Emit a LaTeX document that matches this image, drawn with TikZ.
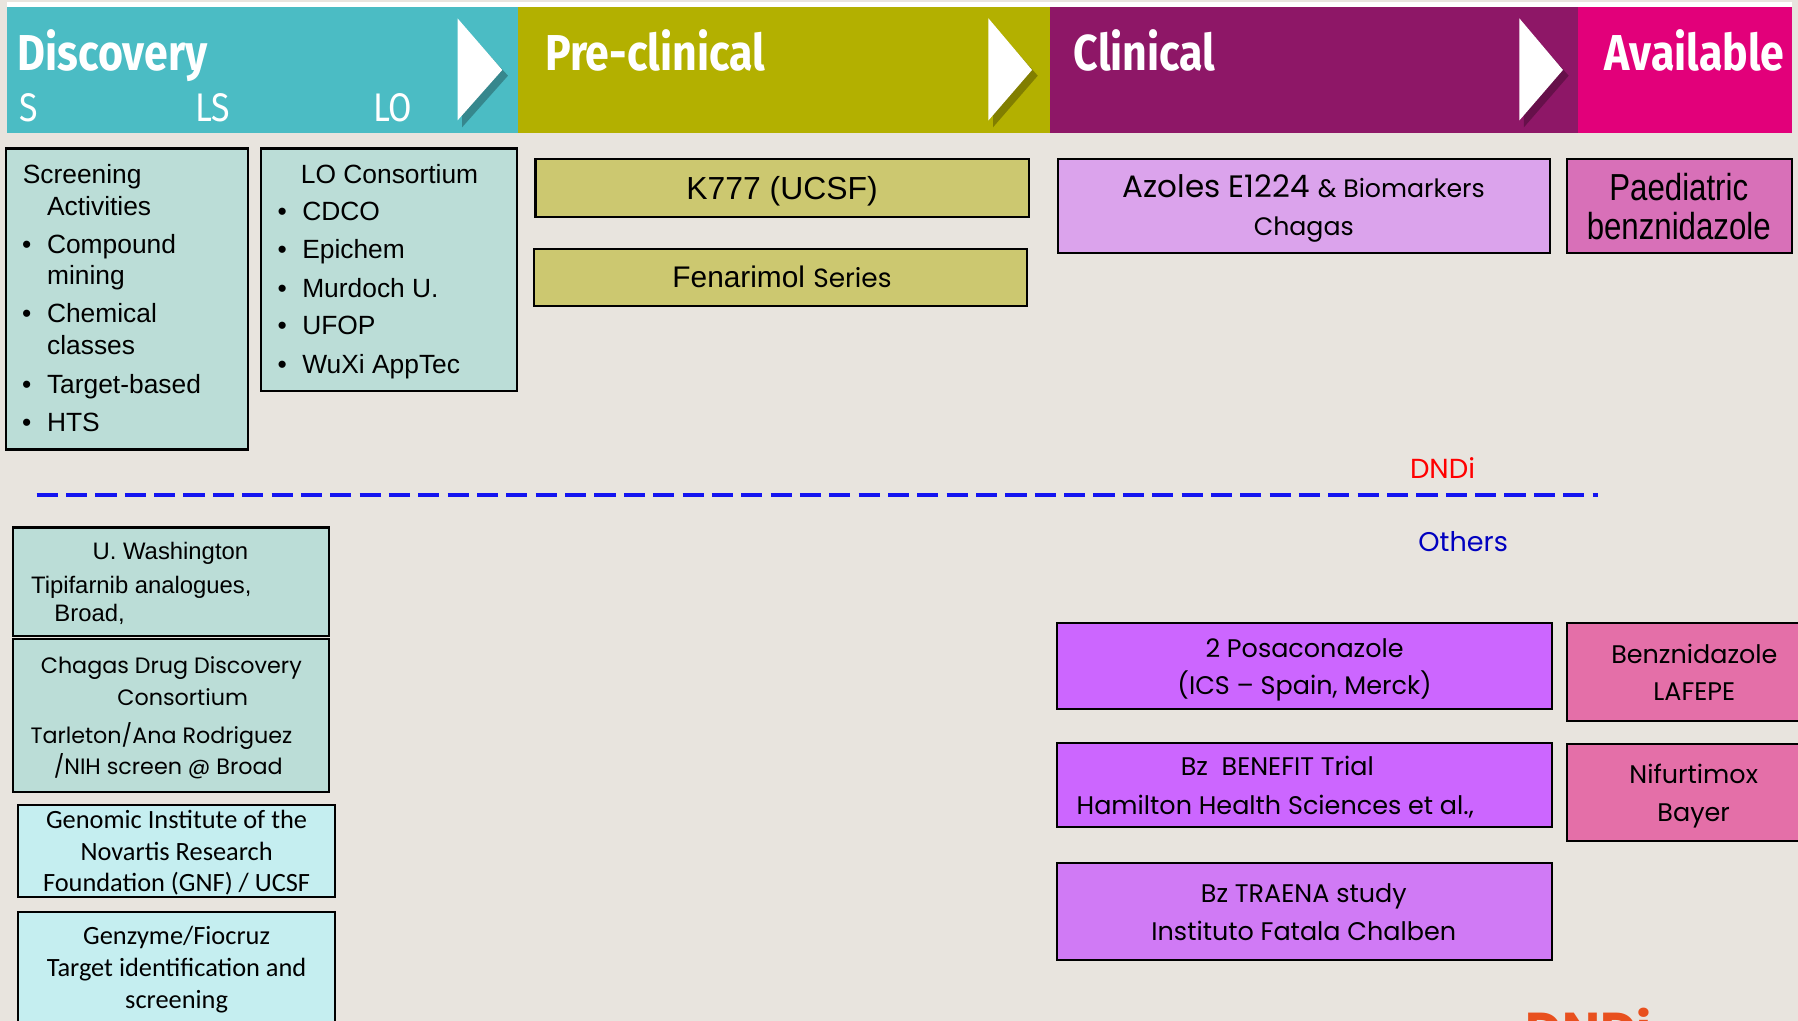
\documentclass[tikz,border=0pt]{standalone}
\usepackage{fontspec}
\setmainfont{Liberation Sans}
\newfontfamily\bandfont[FakeStretch=0.85]{Fira Sans}
\newfontfamily\geofont{Poppins}
\newfontfamily\calfont{Carlito}
\newfontfamily\narrowfont[FakeStretch=0.83]{Liberation Sans}
\usepackage{tikz}

\definecolor{pageBg}{HTML}{E8E4DE}
\definecolor{discTeal}{HTML}{4BBCC4}
\definecolor{preOlive}{HTML}{B3B000}
\definecolor{clinPurple}{HTML}{8E1767}
\definecolor{availPink}{HTML}{E2007A}
\definecolor{tealBox}{HTML}{BBDDD7}
\definecolor{cyanBox}{HTML}{C5EEF0}
\definecolor{oliveBox}{HTML}{CCC870}
\definecolor{lilacBox}{HTML}{DBA3EC}
\definecolor{paedBox}{HTML}{D870B8}
\definecolor{violetBox}{HTML}{CC66FF}
\definecolor{traenaBox}{HTML}{D07AF5}
\definecolor{rosyBox}{HTML}{E46FA8}
\definecolor{dndiRed}{HTML}{FF0000}
\definecolor{lineBlue}{HTML}{1414F0}
\definecolor{othersBlue}{HTML}{0000C0}
\definecolor{logoOrange}{HTML}{E8501E}

\newcommand{\itembul}{\makebox[10.8pt][l]{\textbullet}}

\begin{document}
\begin{tikzpicture}[x=0.5pt,y=0.5pt,yscale=-1,
    box/.style={draw=black,line width=0.9pt},
    lft/.style={inner sep=0pt,anchor=base west},
    ctr/.style={inner sep=0pt,anchor=base},
    lst/.style={lft,font=\fontsize{11.5}{13.8}\selectfont},
    band/.style={lft,text=white,font=\bandfont\bfseries\fontsize{22}{26}\selectfont},
    stage/.style={lft,text=white,font=\bandfont\fontsize{17.4}{20}\selectfont},
    geo/.style={font=\geofont\fontsize{11.1}{14}\selectfont},
    gal/.style={font=\calfont\fontsize{11.5}{13.8}\selectfont},
    tip/.style={fill=white},
    tipshadow/.style={fill=black,fill opacity=0.28}]
          \useasboundingbox (0,0) rectangle (1568,890);
          \clip (0,0) rectangle (1568,890);

          %Shape: Background
          \fill [pageBg] (0,0) rectangle (1568,890);
          %Shape: White strip
          \fill [white] (6,1.5) rectangle (1562.5,7);
          %Shape: Stage band
          \fill [discTeal] (6,6.4) rectangle (452,116.3);
          \fill [preOlive] (452,6.4) rectangle (916,116.3);
          \fill [clinPurple] (916,6.4) rectangle (1376,116.3);
          \fill [availPink] (1376,6.4) rectangle (1562.5,116.3);
          %Shape: Triangles
          \fill [tipshadow] (403,22) -- (443,66) -- (403,111) -- cycle;
          \fill [tip] (399,16) -- (438,61) -- (399,105) -- cycle;
          \fill [tipshadow] (866,22) -- (905,66) -- (866,111) -- cycle;
          \fill [tip] (862,16) -- (900,61) -- (862,105) -- cycle;
          \fill [tipshadow] (1329,22) -- (1368,66) -- (1329,111) -- cycle;
          \fill [tip] (1325,16) -- (1363,61) -- (1325,105) -- cycle;

          % Text Node
          \draw (15,61.6) node [band] (discT) {Discovery};
          \draw (475,61.6) node [band] (preT) {Pre-clinical};
          \draw (936,61.6) node [band] (clinT) {Clinical};
          \draw (1399,61.6) node [band] (availT) {Available};
          \draw (17,106) node [stage] (stS) {S};
          \draw (170,106) node [stage] (stLS) {LS};
          \draw (325,106) node [stage] (stLO) {LO};

          %Shape: Rectangle
          \draw [box,fill=tealBox] (5.5,129.5) rectangle (216,392);
          % Text Node
          \draw (19.5,160) node [lst] (scr1) {Screening};
          \draw (40.7,187.5) node [lst] (scr2) {Activities};
          \draw (19,221) node [lst] (scr3) {\itembul Compound};
          \draw (40.7,248.5) node [lst] (scr4) {mining};
          \draw (19,281.4) node [lst] (scr5) {\itembul Chemical};
          \draw (40.7,309) node [lst] (scr6) {classes};
          \draw (19,343) node [lst] (scr7) {\itembul Target-based};
          \draw (19,376.5) node [lst] (scr8) {\itembul HTS};

          %Shape: Rectangle
          \draw [box,fill=tealBox] (228,129.5) rectangle (451,341);
          % Text Node
          \draw (262,160) node [lst] (lo1) {LO Consortium};
          \draw (241.6,191.9) node [lst] (lo2) {\itembul CDCO};
          \draw (241.6,225.3) node [lst] (lo3) {\itembul Epichem};
          \draw (241.6,259.3) node [lst] (lo4) {\itembul Murdoch U.};
          \draw (241.6,292.1) node [lst] (lo5) {\itembul UFOP};
          \draw (241.6,325.6) node [lst] (lo6) {\itembul WuXi AppTec};

          %Shape: Rectangle
          \draw [box,fill=oliveBox] (467,139) rectangle (897,189);
          \draw [box,fill=oliveBox] (466,217) rectangle (896,267);
          % Text Node
          \draw (682,174) node [ctr,font=\fontsize{13.9}{16}\selectfont] (k777T) {K777 (UCSF)};
          \draw (682,251) node [ctr,font=\fontsize{13}{16}\selectfont] (fenT) {Fenarimol {\geofont\fontsize{11.5}{14}\selectfont Series}};

          %Shape: Rectangle
          \draw [box,fill=lilacBox] (923,139) rectangle (1351.7,220.8);
          \draw [box,fill=paedBox] (1366.5,139) rectangle (1562.4,220.8);
          % Text Node
          \draw (1137,172) node [ctr,font=\geofont\fontsize{13.5}{16}\selectfont] (azoT) {Azoles E1224 {\fontsize{11}{13}\selectfont\& Biomarkers}};
          \draw (1137,205) node [ctr,font=\geofont\fontsize{11}{13}\selectfont] (chagT) {Chagas};
          \draw (1464,175) node [ctr,font=\narrowfont\fontsize{16.4}{20}\selectfont] (paed1) {Paediatric};
          \draw (1464,209) node [ctr,font=\narrowfont\fontsize{16.4}{20}\selectfont] (paed2) {benznidazole};

          % Text Node
          \draw (1258,417) node [ctr,text=dndiRed,font=\geofont\fontsize{12}{14}\selectfont] (dndiT) {DNDi};
          %Straight Lines
          \draw [lineBlue,line width=1.45pt,dash pattern=on 9.2pt off 3.6pt] (32,431.7) -- (1394,431.7);
          % Text Node
          \draw (1276,481) node [ctr,text=othersBlue,font=\geofont\fontsize{11.8}{14}\selectfont] (othersT) {Others};

          %Shape: Rectangle
          \draw [box,fill=tealBox] (11.6,460) rectangle (287.2,554.7);
          % Text Node
          \draw (148.6,487.8) node [ctr,font=\fontsize{10.4}{12.5}\selectfont] (uw1) {U. Washington};
          \draw (26.7,518) node [lft,font=\fontsize{10.4}{12.5}\selectfont] (uw2) {Tipifarnib analogues,};
          \draw (47.1,542) node [lft,font=\fontsize{10.4}{12.5}\selectfont] (uw3) {Broad,};

          %Shape: Rectangle
          \draw [box,fill=tealBox] (11.6,557.5) rectangle (287.2,690.4);
          % Text Node
          \draw (149.4,587) node [ctr,font=\geofont\fontsize{9.7}{12}\selectfont] (cdd1) {Chagas Drug Discovery};
          \draw (159.3,615) node [ctr,font=\geofont\fontsize{9.7}{12}\selectfont] (cdd2) {Consortium};
          \draw (26.2,648) node [lft,font=\geofont\fontsize{9.7}{12}\selectfont] (cdd3) {Tarleton/Ana Rodriguez};
          \draw (46.5,675) node [lft,font=\geofont\fontsize{9.7}{12}\selectfont] (cdd4) {/NIH screen @ Broad};

          %Shape: Rectangle
          \draw [box,fill=cyanBox] (16,702) rectangle (292.2,782);
          % Text Node
          \draw (154,722.4) node [ctr,gal] (gnf1) {Genomic Institute of the};
          \draw (154,750) node [ctr,gal] (gnf2) {Novartis Research};
          \draw (154,777.6) node [ctr,gal] (gnf3) {Foundation (GNF) / UCSF};

          %Shape: Rectangle
          \draw [box,fill=cyanBox] (16,795) rectangle (292.2,905);
          % Text Node
          \draw (154,824) node [ctr,gal] (gz1) {Genzyme/Fiocruz};
          \draw (154,851.7) node [ctr,gal] (gz2) {Target identification and};
          \draw (154,879.4) node [ctr,gal] (gz3) {screening};

          %Shape: Rectangle
          \draw [box,fill=violetBox] (921.7,543) rectangle (1353.7,618.6);
          \draw [box,fill=violetBox] (921.7,647.7) rectangle (1353.7,720.9);
          \draw [box,fill=traenaBox] (921.7,752.3) rectangle (1353.7,837.2);
          \draw [box,fill=rosyBox] (1366.4,543.6) rectangle (1575,628.5);
          \draw [box,fill=rosyBox] (1366.4,648.8) rectangle (1575,733.1);
          % Text Node
          \draw (1137.7,573) node [ctr,geo] (pos1) {2 Posaconazole};
          \draw (1137.7,606) node [ctr,geo] (pos2) {(ICS – Spain, Merck)};
          \draw (1114,676.7) node [ctr,geo] (ben1) {Bz\ \ BENEFIT Trial};
          \draw (938.5,710) node [lft,geo] (ben2) {Hamilton Health Sciences et al.,};
          \draw (1137,787) node [ctr,geo] (tra1) {Bz TRAENA study};
          \draw (1137,820) node [ctr,geo] (tra2) {Instituto Fatala Chalben};
          \draw (1477.6,579) node [ctr,geo] (bzl1) {Benznidazole};
          \draw (1477.6,611) node [ctr,geo] (bzl2) {LAFEPE};
          \draw (1477,683.5) node [ctr,geo] (nif1) {Nifurtimox};
          \draw (1477,716) node [ctr,geo] (nif2) {Bayer};

          % Text Node
          \draw (1330,914) node [lft,text=logoOrange,font=\geofont\bfseries\fontsize{22}{26}\selectfont] (logoT) {DNDi};
\end{tikzpicture}
\end{document}
